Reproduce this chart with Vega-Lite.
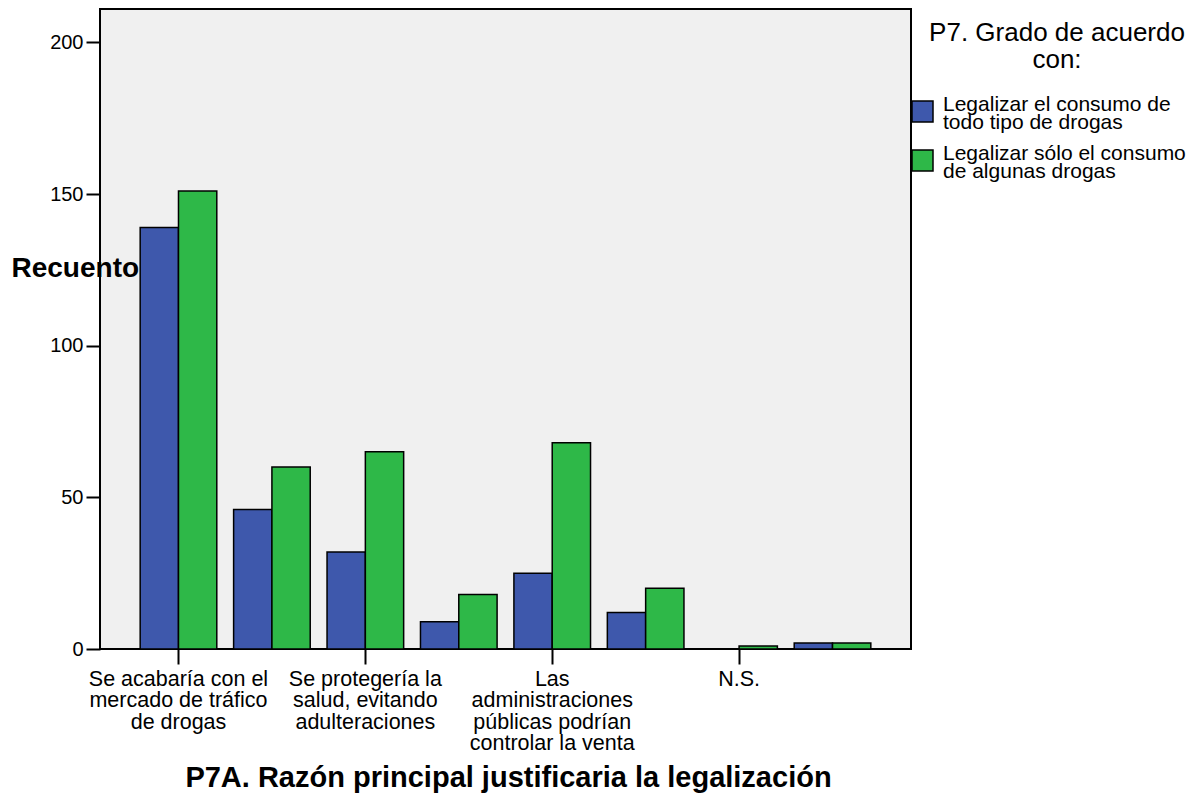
{
  "$schema": "https://vega.github.io/schema/vega-lite/v6.json",
  "autosize": {"type": "none"},
  "padding": {"left": 100, "top": 9, "right": 287, "bottom": 146},
  "width": 811,
  "height": 640,
  "background": "white",
  "config": {
    "font": "Liberation Sans",
    "view": {"fill": "#F0F0F0", "stroke": "black", "strokeWidth": 2}
  },
  "data": {
    "values": [
      {"razon": "Se acabaría con el mercado de tráfico de drogas", "acuerdo": "Legalizar el consumo de todo tipo de drogas", "recuento": 139},
      {"razon": "Se acabaría con el mercado de tráfico de drogas", "acuerdo": "Legalizar sólo el consumo de algunas drogas", "recuento": 151},
      {"razon": "Disminuiría la delincuencia", "acuerdo": "Legalizar el consumo de todo tipo de drogas", "recuento": 46},
      {"razon": "Disminuiría la delincuencia", "acuerdo": "Legalizar sólo el consumo de algunas drogas", "recuento": 60},
      {"razon": "Se protegería la salud, evitando adulteraciones", "acuerdo": "Legalizar el consumo de todo tipo de drogas", "recuento": 32},
      {"razon": "Se protegería la salud, evitando adulteraciones", "acuerdo": "Legalizar sólo el consumo de algunas drogas", "recuento": 65},
      {"razon": "Cada persona es libre de decidir", "acuerdo": "Legalizar el consumo de todo tipo de drogas", "recuento": 9},
      {"razon": "Cada persona es libre de decidir", "acuerdo": "Legalizar sólo el consumo de algunas drogas", "recuento": 18},
      {"razon": "Las administraciones públicas podrían controlar la venta", "acuerdo": "Legalizar el consumo de todo tipo de drogas", "recuento": 25},
      {"razon": "Las administraciones públicas podrían controlar la venta", "acuerdo": "Legalizar sólo el consumo de algunas drogas", "recuento": 68},
      {"razon": "Otras razones", "acuerdo": "Legalizar el consumo de todo tipo de drogas", "recuento": 12},
      {"razon": "Otras razones", "acuerdo": "Legalizar sólo el consumo de algunas drogas", "recuento": 20},
      {"razon": "N.S.", "acuerdo": "Legalizar el consumo de todo tipo de drogas", "recuento": 0},
      {"razon": "N.S.", "acuerdo": "Legalizar sólo el consumo de algunas drogas", "recuento": 1},
      {"razon": "N.C.", "acuerdo": "Legalizar el consumo de todo tipo de drogas", "recuento": 2},
      {"razon": "N.C.", "acuerdo": "Legalizar sólo el consumo de algunas drogas", "recuento": 2}
    ]
  },
  "mark": {"type": "bar", "stroke": "black", "strokeWidth": 1.5},
  "encoding": {
    "x": {
      "field": "razon",
      "type": "nominal",
      "sort": null,
      "scale": {"paddingInner": 0.18, "paddingOuter": 0.43},
      "axis": {
        "title": "P7A. Razón principal justificaria la legalización",
        "values": [
          "Se acabaría con el mercado de tráfico de drogas",
          "Se protegería la salud, evitando adulteraciones",
          "Las administraciones públicas podrían controlar la venta",
          "N.S."
        ],
        "labelExpr": "datum.value == 'Se acabaría con el mercado de tráfico de drogas' ? ['Se acabaría con el', 'mercado de tráfico', 'de drogas'] : datum.value == 'Se protegería la salud, evitando adulteraciones' ? ['Se protegería la', 'salud, evitando', 'adulteraciones'] : datum.value == 'Las administraciones públicas podrían controlar la venta' ? ['Las', 'administraciones', 'públicas podrían', 'controlar la venta'] : datum.label",
        "labelAngle": 0,
        "labelFontSize": 21.5,
        "labelLineHeight": 21.5,
        "labelColor": "black",
        "labelPadding": 4,
        "labelBaseline": "top",
        "labelLimit": 400,
        "labelOverlap": false,
        "tickSize": 15,
        "tickWidth": 2,
        "tickColor": "black",
        "domain": false,
        "grid": false,
        "titleFontSize": 29,
        "titleFontWeight": "bold",
        "titleColor": "black",
        "titleBaseline": "alphabetic",
        "titleAlign": "center",
        "titleX": 408,
        "titleY": 137
      }
    },
    "xOffset": {"field": "acuerdo", "sort": null},
    "y": {
      "field": "recuento",
      "type": "quantitative",
      "scale": {"domain": [0, 211], "nice": false},
      "axis": {
        "title": "Recuento",
        "titleAngle": 0,
        "titleAlign": "left",
        "titleBaseline": "alphabetic",
        "titleX": -89,
        "titleY": 267,
        "titleFontSize": 28,
        "titleFontWeight": "bold",
        "titleColor": "black",
        "values": [0, 50, 100, 150, 200],
        "labelFontSize": 20,
        "labelColor": "black",
        "labelPadding": 3,
        "tickSize": 14,
        "tickWidth": 2,
        "tickColor": "black",
        "domain": false,
        "grid": false
      }
    },
    "color": {
      "field": "acuerdo",
      "type": "nominal",
      "sort": null,
      "scale": {"range": ["#3E58AC", "#2EB848"]},
      "legend": {
        "orient": "none",
        "legendX": 811,
        "legendY": 13,
        "padding": 0,
        "title": ["P7. Grado de acuerdo", "con:"],
        "titleFontSize": 26,
        "titleFontWeight": "normal",
        "titleColor": "black",
        "titleAlign": "center",
        "titleAnchor": "middle",
        "titleLineHeight": 27,
        "titlePadding": 25,
        "titleLimit": 400,
        "labelFontSize": 21,
        "labelColor": "black",
        "labelLimit": 400,
        "labelOffset": 9,
        "labelExpr": "datum.label == 'Legalizar el consumo de todo tipo de drogas' ? ['Legalizar el consumo de', 'todo tipo de drogas'] : ['Legalizar sólo el consumo', 'de algunas drogas']",
        "symbolType": "square",
        "symbolSize": 441,
        "symbolStrokeColor": "black",
        "symbolStrokeWidth": 1.5,
        "symbolOpacity": 1,
        "rowPadding": 10,
        "encode": {
          "title": {"update": {"dx": {"value": 9}, "dy": {"value": -2}}},
          "labels": {"update": {"lineHeight": {"value": 17.5}, "dy": {"value": -6.5}}}
        }
      }
    }
  }
}
